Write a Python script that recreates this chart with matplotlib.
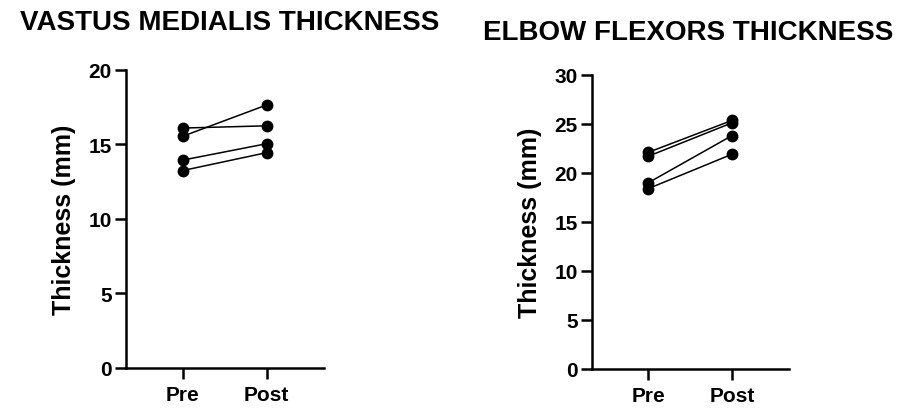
import matplotlib
matplotlib.use("Agg")
import matplotlib.pyplot as plt
import numpy as np

plt.rcParams['font.family'] = ['Liberation Sans', 'DejaVu Sans']
plt.rcParams['font.weight'] = 'bold'

groups = ["Pre", "Post"]

# vastus medialis, each row = one subject (pre, post)
vm_pre = [16.1, 15.55, 13.95, 13.25]
vm_post = [16.25, 17.65, 15.05, 14.45]

# elbow flexors
ef_pre = [22.1, 21.7, 19.0, 18.4]
ef_post = [25.35, 25.1, 23.8, 21.9]

fig = plt.figure(figsize=(9, 4.1), dpi=100)

def paired(ax, pre, post, ymax, step):
    x = np.arange(len(groups))
    for a, b in zip(pre, post):
        ax.plot(x, [a, b], color="black", lw=1.1, marker="o", ms=7.5,
                mfc="black", mec="black")
    ax.set_xlim(-0.68, 1.68)
    ax.set_ylim(0, ymax)
    ax.set_xticks(x)
    ax.set_xticklabels(groups, fontsize=15, fontweight="bold")
    ax.set_yticks(np.arange(0, ymax + 1, step))
    ax.tick_params(axis="y", labelsize=15, width=1.8, length=8, pad=2)
    ax.tick_params(axis="x", width=1.8, length=8, pad=4)
    for lab in ax.get_yticklabels():
        lab.set_fontweight("bold")
    for s in ["top", "right"]:
        ax.spines[s].set_visible(False)
    for s in ["left", "bottom"]:
        ax.spines[s].set_linewidth(1.8)
    ax.set_ylabel("Thickness (mm)", fontsize=18, fontweight="bold", labelpad=9)

ax1 = fig.add_axes([0.1397, 0.100, 0.220, 0.727])
paired(ax1, vm_pre, vm_post, 20, 5)

ax2 = fig.add_axes([0.6574, 0.0976, 0.219, 0.7175])
paired(ax2, ef_pre, ef_post, 30, 5)

fig.text(230 / 900, 1 - 23 / 410, "VASTUS MEDIALIS THICKNESS", ha="center", va="center",
         fontsize=20, fontweight="bold")
fig.text(688 / 900, 1 - 33 / 410, "ELBOW FLEXORS THICKNESS", ha="center", va="center",
         fontsize=20, fontweight="bold")

fig.savefig("out.png", dpi=100)
